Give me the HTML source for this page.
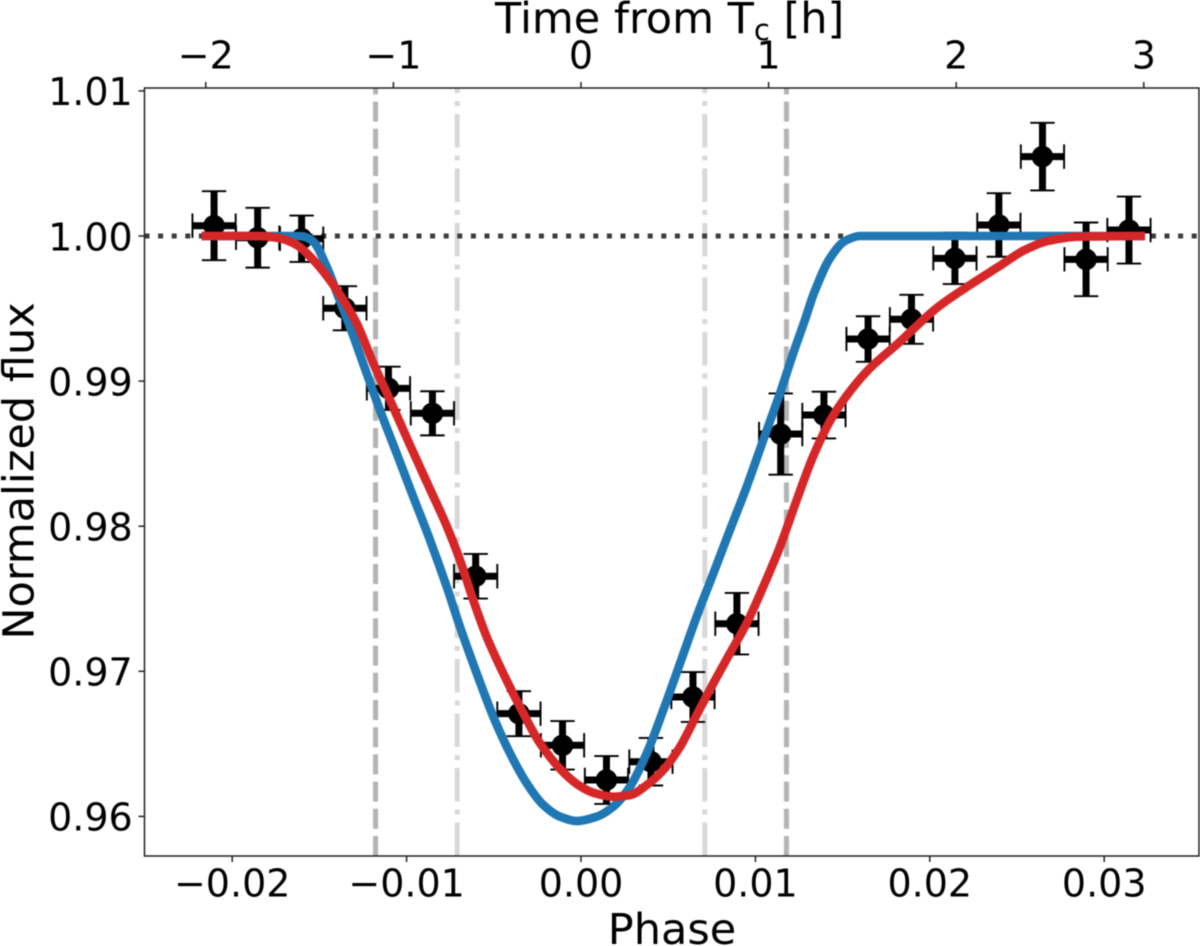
<!DOCTYPE html>
<html lang="en">
<head>
<meta charset="utf-8">
<title>Transit light curve</title>
<style>
html,body{margin:0;padding:0;background:#fff;}
#chart{display:block;width:1200px;height:946px;filter:blur(0.45px);}
text{font-family:"DejaVu Sans","Liberation Sans",sans-serif;fill:#000;}
</style>
</head>
<body>
<svg id="chart" xmlns="http://www.w3.org/2000/svg" width="1200" height="946" viewBox="0 0 1200 946">
  <text x="672" y="944" font-size="43" text-anchor="middle">Phase</text>
  <text transform="translate(33.3 471) rotate(-90)" font-size="43" text-anchor="middle">Normalized flux</text>
  <text x="495" y="33" font-size="43">Time from T<tspan font-size="29" dy="7">c</tspan><tspan dy="-7"> [h]</tspan></text>
  <g id="vlines"></g>
  <g id="zero"></g>
  <g id="errs"></g>
  <g id="curves"></g>
  <g id="axes"></g>
</svg>
<script>
// ---- data ----
const obsPhase = [-0.02104,-0.01854,-0.01602,-0.01354,-0.01104,-0.00852,-0.00604,-0.00356,-0.00106,0.00146,0.00401,0.00642,0.00894,0.01145,0.01393,0.01646,0.01895,0.02144,0.02396,0.02646,0.02896,0.03142];
const obsFlux = [1.00071,0.99988,0.99981,0.99502,0.98950,0.98778,0.97655,0.96708,0.96490,0.96251,0.96377,0.96823,0.97328,0.98635,0.98766,0.99290,0.99426,0.99846,1.00076,1.00547,0.99839,1.00041];
const obsFluxErr = [0.00238,0.00206,0.0016,0.00152,0.00149,0.00152,0.00154,0.00155,0.00167,0.00165,0.00164,0.00172,0.00212,0.0028,0.00161,0.00157,0.00169,0.00177,0.00219,0.00233,0.00254,0.00231];
const obsPhaseErr = [0.00124,0.00124,0.00124,0.00124,0.00124,0.00124,0.00124,0.00124,0.00124,0.00124,0.00124,0.00124,0.00124,0.00124,0.00124,0.00124,0.00124,0.00124,0.00124,0.00124,0.00124,0.00124];

const bluePhase = [-0.02175,-0.0164,-0.01594,-0.01535,-0.01458,-0.01393,-0.01325,-0.01229,-0.01153,-0.01057,-0.00962,-0.00866,-0.0077,-0.00694,-0.00598,-0.00503,-0.00407,-0.00311,-0.00216,-0.0012,-0.00025,0.0009,0.00185,0.00281,0.00377,0.00472,0.00568,0.00663,0.00759,0.00854,0.0095,0.01045,0.01141,0.01217,0.01284,0.01336,0.01428,0.01514,0.016,0.03234];
const blueFlux = [1,1,0.99997,0.99961,0.99788,0.99586,0.99375,0.99054,0.98801,0.98502,0.98203,0.97905,0.97583,0.97307,0.96986,0.96687,0.96435,0.96228,0.96079,0.95998,0.95968,0.95998,0.96067,0.96205,0.96435,0.96733,0.97055,0.97376,0.97675,0.97974,0.98272,0.98594,0.98916,0.99192,0.99421,0.99607,0.99848,0.99966,1,1];

const redPhase = [-0.02175,-0.01927,-0.01823,-0.01726,-0.0163,-0.01535,-0.01445,-0.01357,-0.01286,-0.01191,-0.01095,-0.00981,-0.00866,-0.0077,-0.00694,-0.00618,-0.00541,-0.00446,-0.0035,-0.00235,-0.00101,-0.00006,0.00071,0.00185,0.00281,0.00377,0.00472,0.00568,0.00663,0.00759,0.00854,0.0095,0.01045,0.01141,0.01237,0.01332,0.01428,0.01514,0.01646,0.01821,0.0204,0.02213,0.02391,0.02546,0.02678,0.0285,0.03234];
const redFlux = [1,1,0.99999,0.99984,0.99938,0.99835,0.99704,0.99547,0.99398,0.99123,0.9887,0.9856,0.98256,0.98001,0.97767,0.97491,0.97238,0.96986,0.96756,0.96504,0.96304,0.96209,0.96163,0.96136,0.96147,0.96216,0.9632,0.9648,0.96699,0.96917,0.97124,0.97331,0.97583,0.97859,0.98181,0.98484,0.98725,0.98884,0.99076,0.99263,0.99504,0.99649,0.99786,0.99904,0.99966,0.99995,1];

const outerContactPhase = [-0.01178,0.01178];
const innerContactPhase = [-0.0071,0.0071];
const baselineFlux = [1];

const xTickValues = [-0.02,-0.01,0,0.01,0.02,0.03];
const xTickLabels = ['\u22120.02','\u22120.01','0.00','0.01','0.02','0.03'];
const yTickValues = [1.01,1,0.99,0.98,0.97,0.96];
const yTickLabels = ['1.01','1.00','0.99','0.98','0.97','0.96'];
const topTickValues = [-2,-1,0,1,2,3];
const topTickLabels = ['\u22122','\u22121','0','1','2','3'];
const phasePerHour = [0.010757];

// ---- scales ----
const PLOT = {left:144.5,right:1199,top:88,bottom:856};
function xScale(p){return 581+p*17440;}
function yScale(f){return 236+(1-f)*14510;}
function hourScale(h){return xScale(h*phasePerHour[0]);}

const NS='http://www.w3.org/2000/svg';
function make(tag,parent,attrs){
  const el=document.createElementNS(NS,tag);
  for(const k in attrs){el.setAttribute(k,attrs[k]);}
  parent.appendChild(el);
  return el;
}

// monotone cubic path through the data points
function curvePath(xs,ys){
  const n=xs.length,d=[],m=[];
  for(let i=0;i<n-1;i++){d.push((ys[i+1]-ys[i])/(xs[i+1]-xs[i]));}
  m[0]=d[0];m[n-1]=d[n-2];
  for(let i=1;i<n-1;i++){m[i]=d[i-1]*d[i]<=0?0:2*d[i-1]*d[i]/(d[i-1]+d[i]);}
  let s='M'+xs[0].toFixed(2)+' '+ys[0].toFixed(2);
  for(let i=0;i<n-1;i++){
    const h=(xs[i+1]-xs[i])/3;
    s+='C'+(xs[i]+h).toFixed(2)+' '+(ys[i]+m[i]*h).toFixed(2)+' '+(xs[i+1]-h).toFixed(2)+' '+(ys[i+1]-m[i+1]*h).toFixed(2)+' '+xs[i+1].toFixed(2)+' '+ys[i+1].toFixed(2);
  }
  return s;
}

// ---- vertical contact lines ----
const vG=document.getElementById('vlines');
outerContactPhase.forEach(function(p){
  const l=make('line',vG,{x1:xScale(p),x2:xScale(p),y1:PLOT.bottom,y2:PLOT.top,stroke:'#b4b4b4','stroke-width':5,'stroke-dasharray':'20 7.2'});
  
  
});
innerContactPhase.forEach(function(p){
  const l=make('line',vG,{x1:xScale(p),x2:xScale(p),y1:PLOT.bottom,y2:PLOT.top,stroke:'#d8d8d8','stroke-width':5,'stroke-dasharray':'33.5 8 5 8'});
  
  
});

// ---- baseline ----
const zG=document.getElementById('zero');
const zeroLine=make('line',zG,{x1:PLOT.left,x2:PLOT.right,y1:yScale(baselineFlux[0]),y2:yScale(baselineFlux[0]),stroke:'#3c3c3c','stroke-width':5,'stroke-dasharray':'5 8.6'});



// ---- error bars and points ----
const eG=document.getElementById('errs');
const BAR_W=7,CAP_W=1.9,CAP=12.2,R=10.8;
obsPhase.forEach(function(p,i){
  const g=make('g',eG,{});
  
  
  const cx=xScale(p),cy=yScale(obsFlux[i]);
  const x0=xScale(p-obsPhaseErr[i]),x1=xScale(p+obsPhaseErr[i]);
  const y0=yScale(obsFlux[i]+obsFluxErr[i]),y1=yScale(obsFlux[i]-obsFluxErr[i]);
  const a=make('path',g,{d:'M'+x0+' '+cy+'H'+x1+'M'+cx+' '+y0+'V'+y1,stroke:'#000','stroke-width':BAR_W,fill:'none'});
  
  
  const b=make('path',g,{d:'M'+x0+' '+(cy-CAP)+'V'+(cy+CAP)+'M'+x1+' '+(cy-CAP)+'V'+(cy+CAP)+'M'+(cx-CAP)+' '+y0+'H'+(cx+CAP)+'M'+(cx-CAP)+' '+y1+'H'+(cx+CAP),stroke:'#000','stroke-width':CAP_W,fill:'none'});
  
  
  const c=make('circle',g,{cx:cx,cy:cy,r:R,fill:'#000'});
  
  
});

// ---- model curves ----
const cG=document.getElementById('curves');
const blueLine=make('path',cG,{d:curvePath(bluePhase.map(xScale),blueFlux.map(yScale)),fill:'none',stroke:'#1f77b4','stroke-width':8.6,'stroke-linejoin':'round'});


const redLine=make('path',cG,{d:curvePath(redPhase.map(xScale),redFlux.map(yScale)),fill:'none',stroke:'#d62728','stroke-width':8.6,'stroke-linejoin':'round'});



// ---- axes ----
const aG=document.getElementById('axes');
const frame=make('rect',aG,{x:PLOT.left,y:PLOT.top,width:PLOT.right-PLOT.left,height:PLOT.bottom-PLOT.top,fill:'none',stroke:'#222','stroke-width':1.5});



xTickValues.forEach(function(v,i){
  const x=xScale(v);
  const t=make('line',aG,{x1:x,x2:x,y1:PLOT.bottom,y2:PLOT.bottom+6,stroke:'#222','stroke-width':1.5});
  
  
  const l=make('text',aG,{x:x,y:896.5,'font-size':38,'text-anchor':'middle'});
  
  
  l.textContent=xTickLabels[i];
});
yTickValues.forEach(function(v,i){
  const y=yScale(v);
  const t=make('line',aG,{x1:PLOT.left-6,x2:PLOT.left,y1:y,y2:y,stroke:'#222','stroke-width':1.5});
  
  
  const l=make('text',aG,{x:132.7,y:y+14.3,'font-size':38,'text-anchor':'end'});
  
  
  l.textContent=yTickLabels[i];
});
topTickValues.forEach(function(v,i){
  const x=hourScale(v);
  const t=make('line',aG,{x1:x,x2:x,y1:PLOT.top-6,y2:PLOT.top,stroke:'#222','stroke-width':1.5});
  
  
  const l=make('text',aG,{x:x,y:68.5,'font-size':38,'text-anchor':'middle'});
  
  
  l.textContent=topTickLabels[i];
});
</script>
</body>
</html>
